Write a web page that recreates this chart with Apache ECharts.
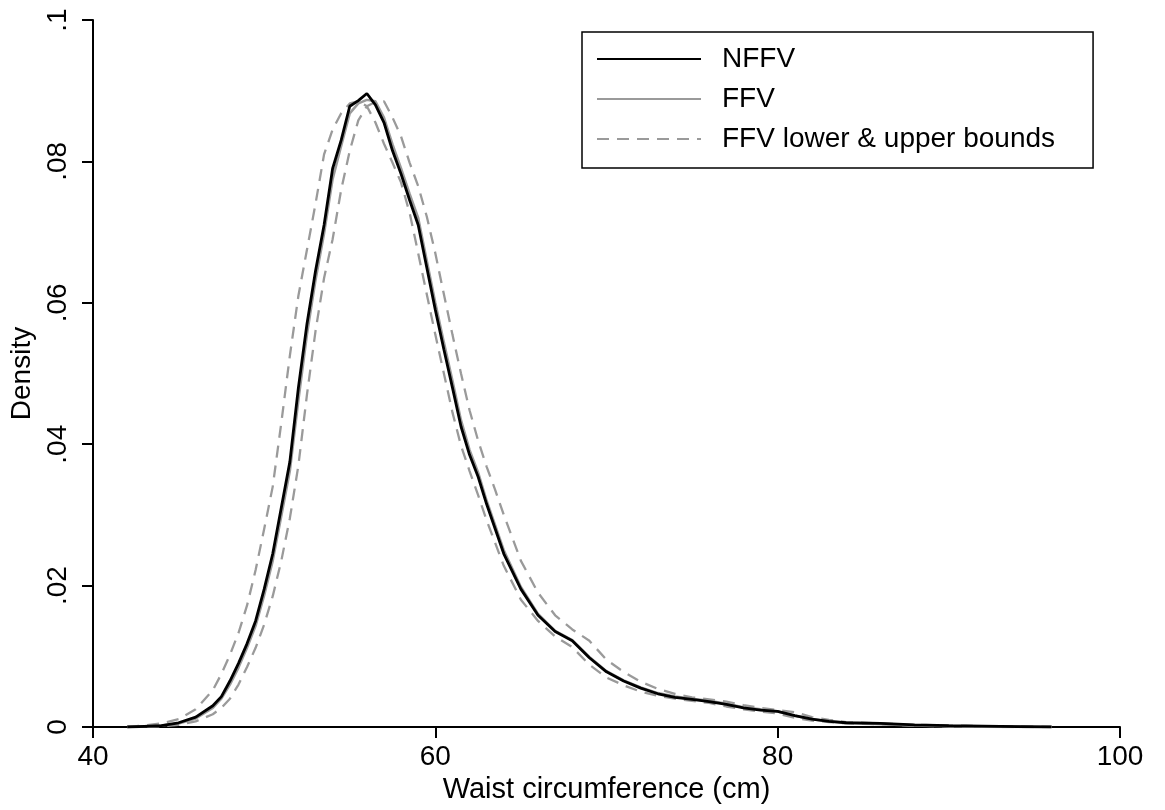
<!DOCTYPE html>
<html>
<head>
<meta charset="utf-8">
<script src="https://cdn.jsdelivr.net/npm/echarts@6/dist/echarts.min.js"></script>
<style>html,body{margin:0;padding:0;background:#fff}#c{width:1165px;height:810px}</style>
</head>
<body>
<div id="c"></div>
<script>
// Waist circumference grid (cm)
const waist = [42,43,44,45,46,47,47.5,48,48.5,49,49.5,50,50.5,51,51.5,52,52.5,53,53.5,54,54.5,55,55.5,56,56.5,57,57.5,58,58.5,59,59.5,60,60.5,61,61.5,62,62.5,63,63.5,64,65,66,67,68,69,70,71,72,73,74,75,76,77,78,79,80,81,82,83,84,86,88,90,93,96];

const nffv = [0,0.0001,0.0002,0.0006,0.0014,0.003,0.0043,0.0065,0.009,0.0118,0.015,0.0195,0.0245,0.031,0.0375,0.048,0.057,0.0645,0.071,0.079,0.083,0.0878,0.0886,0.0896,0.088,0.0855,0.0815,0.0782,0.0745,0.071,0.065,0.059,0.0534,0.048,0.0425,0.0385,0.0354,0.0315,0.028,0.0245,0.0195,0.0158,0.0135,0.0122,0.0098,0.0078,0.0065,0.0055,0.0047,0.0042,0.0039,0.0036,0.0032,0.0027,0.0024,0.0022,0.0016,0.0011,0.0008,0.0006,0.0005,0.0003,0.0002,0.0001,0];

const ffv = [0,0.0001,0.0002,0.0005,0.0012,0.0027,0.004,0.006,0.0084,0.0112,0.0143,0.0186,0.0235,0.0298,0.0362,0.0462,0.0555,0.0632,0.0698,0.0775,0.0822,0.0868,0.0882,0.0887,0.0885,0.0862,0.0824,0.079,0.0754,0.072,0.066,0.06,0.0544,0.049,0.0434,0.0392,0.036,0.032,0.0285,0.025,0.0198,0.016,0.0136,0.0123,0.0099,0.0079,0.0066,0.0056,0.0048,0.0043,0.004,0.0037,0.0033,0.0028,0.0025,0.0022,0.0016,0.0011,0.0008,0.0006,0.0004,0.0002,0.0001,0,0];

const ffvLower = [0,0.0002,0.0005,0.0011,0.0025,0.0052,0.0075,0.0102,0.0133,0.0172,0.0222,0.028,0.034,0.043,0.0525,0.061,0.0675,0.074,0.081,0.0845,0.0868,0.0882,0.0885,0.0878,0.0855,0.0825,0.0798,0.077,0.0727,0.067,0.0612,0.0555,0.05,0.0445,0.0398,0.0362,0.0328,0.0292,0.026,0.0228,0.018,0.015,0.0128,0.0113,0.0088,0.007,0.0059,0.005,0.0044,0.004,0.0037,0.0034,0.0029,0.0025,0.0022,0.0019,0.0013,0.0009,0.0007,0.0005,0.0004,0.0002,0.0001,0,0];

const ffvUpper = [0,0,0.0001,0.0003,0.0008,0.0018,0.0027,0.004,0.006,0.0085,0.0112,0.0145,0.0185,0.0235,0.0295,0.037,0.047,0.056,0.0635,0.069,0.076,0.0815,0.0858,0.0878,0.0884,0.0885,0.0862,0.0835,0.0798,0.0765,0.0722,0.067,0.0612,0.0555,0.05,0.0448,0.0405,0.0368,0.0335,0.03,0.0235,0.019,0.0158,0.0138,0.0122,0.0095,0.0078,0.0064,0.0054,0.0047,0.0042,0.0039,0.0036,0.0031,0.0027,0.0024,0.0021,0.0014,0.001,0.0007,0.0005,0.0003,0.0002,0.0001,0];

const xTicks = [40, 60, 80, 100];
const yTicks = [0, 0.02, 0.04, 0.06, 0.08, 0.1];
const names = ['NFFV', 'FFV', 'FFV lower & upper bounds'];

const pairs = arr => waist.map((x, i) => [x, arr[i]]);
const FONT = 'Liberation Sans, Arial, Helvetica, sans-serif';
const GRAY = '#9a9a9a';
const FS = 28;

const chart = echarts.init(document.getElementById('c'), null, {renderer: 'canvas'});
chart.setOption({
  animation: false,
  backgroundColor: '#fff',
  textStyle: {fontFamily: FONT},
  grid: {left: 93, right: 45, top: 20, bottom: 83},
  legend: {
    show: true,
    data: names,
    orient: 'vertical',
    left: 582,
    top: 32,
    padding: [12, 38, 14, 14],
    itemGap: 10,
    itemWidth: 104,
    itemHeight: 14,
    backgroundColor: '#fff',
    borderColor: '#000',
    borderWidth: 1.5,
    borderRadius: 0,
    itemStyle: {opacity: 0, borderWidth: 0},
    textStyle: {fontFamily: FONT, fontSize: FS, color: '#000', lineHeight: 30, padding: [0, 0, 0, 16]}
  },
  xAxis: {
    type: 'value', min: xTicks[0], max: xTicks[xTicks.length - 1], interval: 20,
    name: 'Waist circumference (cm)', nameLocation: 'middle', nameGap: 45,
    nameTextStyle: {fontFamily: FONT, fontSize: FS + 1, color: '#000'},
    axisLine: {lineStyle: {color: '#000', width: 2}},
    axisTick: {show: true, length: 11, lineStyle: {color: '#000', width: 2}},
    axisLabel: {fontFamily: FONT, fontSize: FS, color: '#000', margin: 16},
    splitLine: {show: false}
  },
  yAxis: {
    type: 'value', min: yTicks[0], max: yTicks[yTicks.length - 1], interval: 0.02,
    name: 'Density', nameLocation: 'middle', nameGap: 56, nameRotate: 90,
    nameTextStyle: {fontFamily: FONT, fontSize: FS, color: '#000'},
    axisLine: {show: true, lineStyle: {color: '#000', width: 2}},
    axisTick: {show: true, length: 11, lineStyle: {color: '#000', width: 2}},
    axisLabel: {
      fontFamily: FONT, fontSize: FS, color: '#000', margin: 21, rotate: 90,
      formatter: v => v === 0 ? '0' : String(+v.toFixed(2)).replace(/^0/, '')
    },
    splitLine: {show: false}
  },
  series: [
    {name: names[2], type: 'line', data: pairs(ffvLower), showSymbol: false, symbol: 'none', z: 1,
     lineStyle: {color: GRAY, width: 2.3, type: [12, 8]}, itemStyle: {color: GRAY}},
    {name: names[2], type: 'line', data: pairs(ffvUpper), showSymbol: false, symbol: 'none', z: 1,
     lineStyle: {color: GRAY, width: 2.3, type: [12, 8]}, itemStyle: {color: GRAY}},
    {name: names[1], type: 'line', data: pairs(ffv), showSymbol: false, symbol: 'none', z: 2,
     lineStyle: {color: GRAY, width: 2.5}, itemStyle: {color: GRAY}},
    {name: names[0], type: 'line', data: pairs(nffv), showSymbol: false, symbol: 'none', z: 3,
     lineStyle: {color: '#000', width: 2.8}, itemStyle: {color: '#000'}}
  ]
});
</script>
</body>
</html>
